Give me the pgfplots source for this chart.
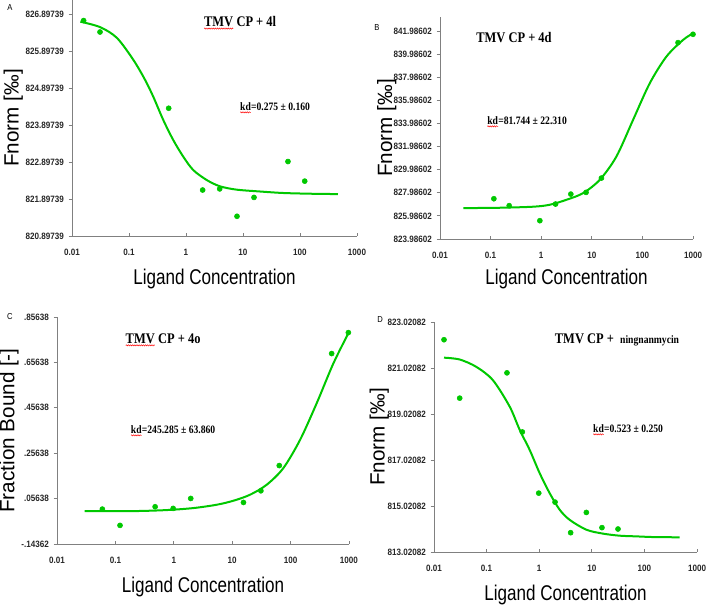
\documentclass[border=0pt]{standalone}
\usepackage{pgfplots}
\pgfplotsset{compat=1.18}
\usetikzlibrary{decorations.pathmorphing}
\usepackage{fontspec}
\setmainfont{Liberation Serif}
\newfontfamily\ticksf[FakeStretch=0.88]{Liberation Sans}
\newfontfamily\labsf[FakeStretch=0.8]{Liberation Sans}
\newfontfamily\ylabsf{Liberation Sans}
\newfontfamily\titlef[FakeStretch=0.85]{Liberation Serif}
\newcommand\redwave[1]{\tikz[baseline=(w.base)]{\node[inner sep=0pt, outer sep=0pt](w){#1};
  \draw[red, line width=0.35pt, decorate, decoration={snake, amplitude=0.45pt, segment length=1.6pt}]
  ([yshift=-1.2pt]w.south west) -- ([yshift=-1.2pt]w.south east);}}
\definecolor{fitgreen}{RGB}{0,200,0}
\definecolor{axgray}{RGB}{128,128,128}
\pgfplotsset{mtstyle/.style={
  scale only axis, xmin=0.01, xmax=1000,
  axis x line*=bottom, axis y line*=left,
  axis line style={axgray, line width=0.6pt},
  xtick={0.01,0.1,1,10,100,1000}, xticklabels={0.01,0.1,1,10,100,1000},
  xminorticks=false,
  xtick align=inside, ytick align=outside,
  major tick length=2.5pt,
  tick style={axgray, line width=0.6pt},
  ticklabel style={font=\fontsize{6.9}{7}\selectfont\ticksf\bfseries, text=black!85},
  xticklabel style={yshift=-6pt},
  every axis x label/.style={at={(rel axis cs:0.5,0)}, anchor=center},
  every axis y label/.style={at={(rel axis cs:0,0.5)}, anchor=center},
  xlabel style={yshift=-32pt, font=\fontsize{16}{17}\selectfont\labsf},
  xlabel={Ligand Concentration},
}}
\pgfplotsset{fitline/.style={fitgreen, line width=1.5pt, smooth, no marks}}
\pgfplotsset{pts/.style={only marks, mark=*, mark size=1.9pt, fitgreen, mark options={fill=fitgreen, draw=fitgreen}}}
\newcommand\tfont{\fontsize{11}{12}\selectfont\titlef\bfseries}
\newcommand\kfont{\fontsize{8.5}{9}\selectfont\titlef\bfseries}
\begin{document}
\begin{tikzpicture}
\useasboundingbox (0,0) rectangle (530.25pt,455.25pt);
% ---------------- A
\begin{semilogxaxis}[mtstyle, at={(54pt,278.25pt)}, anchor=south west,
  width=213.75pt, height=177pt,
  ymin=820.89739, ymax=827.276,
  ytick={820.89739,821.89739,822.89739,823.89739,824.89739,825.89739,826.89739},
  yticklabels={820.89739,821.89739,822.89739,823.89739,824.89739,825.89739,826.89739},
  ylabel={Fnorm [‰]},
  ylabel style={xshift=-44pt, rotate=90, font=\fontsize{15.5}{17}\selectfont\ylabsf}]
\addplot[fitline] coordinates {
(0.0140,826.69) (0.0314,826.54) (0.0615,826.25) (0.119,825.66) (0.191,825.12)
(0.267,824.66) (0.400,824.03) (0.598,823.49) (0.897,823.04) (1.34,822.68)
(2.31,822.41) (3.95,822.24) (7.74,822.15) (19.9,822.10) (50,822.06)
(150,822.04) (464,822.03)};
\addplot[pts] coordinates {
(0.016,826.72) (0.031,826.41) (0.497,824.35) (1.96,822.14) (3.9,822.17)
(7.85,821.43) (15.6,821.94) (61.5,822.91) (121,822.38)};
\end{semilogxaxis}
% ---------------- B
\begin{semilogxaxis}[mtstyle, at={(330pt,276pt)}, anchor=south west,
  width=189.75pt, height=166.5pt,
  ymin=823.98602, ymax=843.197,
  ytick={823.98602,825.98602,827.98602,829.98602,831.98602,833.98602,835.98602,837.98602,839.98602,841.98602},
  yticklabels={823.98602,825.98602,827.98602,829.98602,831.98602,833.98602,835.98602,837.98602,839.98602,841.98602},
  ylabel={Fnorm [‰]},
  xlabel style={yshift=2pt},
  ylabel style={xshift=-40pt, rotate=90, font=\fontsize{15.5}{17}\selectfont\ylabsf}]
\addplot[fitline] coordinates {
(0.0289,826.66) (0.153,826.69) (0.695,826.78) (1.48,826.95) (3.16,827.38)
(6.75,827.96) (14.4,829.11) (30.7,831.13) (65.5,834.30) (140,837.47)
(298,839.77) (635,841.21) (1000,841.78)};
\addplot[pts] coordinates {
(0.116,827.47) (0.233,826.87) (0.94,825.57) (1.92,827.01) (3.85,827.87)
(7.7,828.02) (15.5,829.26) (506,840.98) (1000,841.70)};
\end{semilogxaxis}
% ---------------- C
\begin{semilogxaxis}[mtstyle, at={(42.75pt,47.25pt)}, anchor=south west,
  width=219pt, height=170.25pt,
  ymin=-0.14362, ymax=0.85638,
  ytick={-0.14362,0.05638,0.25638,0.45638,0.65638,0.85638},
  yticklabels={-.14362,.05638,.25638,.45638,.65638,.85638},
  ylabel={Fraction Bound [-]},
  ylabel style={xshift=-36pt, rotate=90, font=\fontsize{15.5}{17}\selectfont\ylabsf}]
\addplot[fitline] coordinates {
(0.0298,0.0013) (0.201,0.0013) (0.748,0.0058) (2.14,0.0145) (5.39,0.0292)
(10.4,0.0467) (20.1,0.0731) (38.8,0.1170) (74.9,0.1902) (145,0.3147)
(279,0.4757) (539,0.6514) (1000,0.7900)};
\addplot[pts] coordinates {
(0.0598,0.0101) (0.120,-0.0616) (0.479,0.0204) (0.975,0.0131) (1.95,0.0570)
(15.6,0.0394) (31,0.0907) (64,0.2019) (505,0.6953) (975,0.7876)};
\end{semilogxaxis}
% ---------------- D
\begin{semilogxaxis}[mtstyle, at={(325.5pt,41.25pt)}, anchor=south west,
  width=197.25pt, height=172.5pt,
  ymin=813.02082, ymax=823.02082,
  ytick={813.02082,815.02082,817.02082,819.02082,821.02082,823.02082},
  yticklabels={813.02082,815.02082,817.02082,819.02082,821.02082,823.02082},
  ylabel={Fnorm [‰]},
  ylabel style={xshift=-41pt, rotate=90, font=\fontsize{15.5}{17}\selectfont\ylabsf}]
\addplot[fitline] coordinates {
(0.0155,821.47) (0.0308,821.39) (0.0638,821.07) (0.132,820.49) (0.275,819.34)
(0.426,818.33) (0.659,817.46) (1.02,816.45) (1.58,815.58) (2.45,814.86)
(3.79,814.42) (7.88,813.99) (16.3,813.82) (33.9,813.73) (70.4,813.70)
(150,813.67) (469,813.66)};
\addplot[pts] coordinates {
(0.0155,822.25) (0.0308,819.71) (0.244,820.81) (0.478,818.24) (0.98,815.58)
(2.0,815.19) (3.96,813.86) (7.87,814.74) (15.6,814.08) (31.5,814.02)};
\end{semilogxaxis}
% ---------------- annotations
\node[font=\fontsize{6.5}{7}\selectfont\ticksf] at (7.5pt,449.25pt) {A};
\node[font=\fontsize{6.5}{7}\selectfont\ticksf] at (282.75pt,434.25pt) {B};
\node[font=\fontsize{6.5}{7}\selectfont\ticksf] at (7.5pt,217.5pt) {C};
\node[font=\fontsize{6.5}{7}\selectfont\ticksf] at (285pt,215.25pt) {D};
\node[font=\tfont] at (180pt,438pt) {\redwave{TMV} CP + 4l};
\node[font=\kfont] at (206.25pt,374.25pt) {\redwave{kd}=0.275 ± 0.160};
\node[font=\tfont] at (385.5pt,426.75pt) {TMV CP + 4d};
\node[font=\kfont] at (395.25pt,363.75pt) {\redwave{kd}=81.744 ± 22.310};
\node[font=\tfont] at (122.25pt,200.25pt) {\redwave{TMV} CP + 4o};
\node[font=\kfont] at (129.75pt,132pt) {\redwave{kd}=245.285 ± 63.860};
\node[font=\tfont] at (462.75pt,200.25pt) {TMV CP + \ {\kfont ningnanmycin}};
\node[font=\kfont] at (471pt,132.75pt) {\redwave{kd}=0.523 ± 0.250};
\end{tikzpicture}
\end{document}
